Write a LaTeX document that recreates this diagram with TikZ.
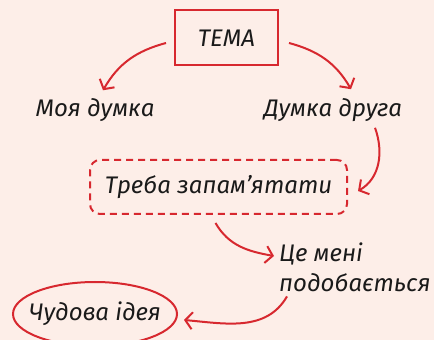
\documentclass[tikz,border=0pt]{standalone}
\usepackage{fontspec}
\setmainfont{Fira Sans}
\usetikzlibrary{arrows.meta,positioning,shapes.geometric}
\definecolor{paper}{HTML}{FDEEE8}
\definecolor{ink}{HTML}{D7282F}
\definecolor{pen}{HTML}{1A1A1A}
\tikzset{
  word/.style={font=\itshape\fontsize{24}{30}\selectfont,text=pen,inner sep=2pt},
  topicbox/.style={word,draw=ink,line width=2pt,minimum width=103pt,minimum height=55pt},
  memobox/.style={word,draw=ink,line width=2pt,dash pattern=on 7pt off 5pt,rounded corners=10pt,minimum width=257pt,minimum height=54pt},
  ideaoval/.style={word,draw=ink,line width=2pt,ellipse,minimum width=164pt,minimum height=64pt,inner xsep=-15pt,inner ysep=0pt},
  arr/.style={-{Straight Barb[length=7pt,width=17pt]},draw=ink,line width=2pt}
}

\begin{document}
\begin{tikzpicture}[x=1pt,y=1pt]
\useasboundingbox (0,0) rectangle (434,340);
\clip (0,0) rectangle (434,340);
\fill[paper] (0,0) rectangle (434,340);

\node[topicbox] (tema) at (226.5,302) {ТЕМА};
\node[word] (mine) at (95,230) {Моя думка};
\node[word] (friend) at (333,230) {Думка друга};
\node[memobox] (memo) at (218.5,153) {Треба запам’ятати};
\node[word,align=left,anchor=north west] (like) at (277,99) {Це мені\\подобається};
\node[ideaoval] (idea) at (95,26) {Чудова ідея};

\draw[arr] ([xshift=-8pt,yshift=-5pt]tema.west) to[out=195,in=60] ([xshift=8pt,yshift=6pt]mine.north);
\draw[arr] ([xshift=10pt,yshift=-5pt]tema.east) to[out=-15,in=120] ([xshift=18pt,yshift=7pt]friend.north);
\draw[arr] ([xshift=42pt,yshift=-4pt]friend.south) to[out=-70,in=30] ([xshift=10pt,yshift=-4pt]memo.east);
\draw[arr] ([xshift=-3pt,yshift=-8pt]memo.south) to[out=-60,in=170] ([xshift=-3pt,yshift=-15pt]like.north west);
\draw[arr] ([xshift=10pt,yshift=-2pt]like.south west) to[out=-120,in=-5] ([xshift=6pt,yshift=-6pt]idea.east);

\end{tikzpicture}
\end{document}
